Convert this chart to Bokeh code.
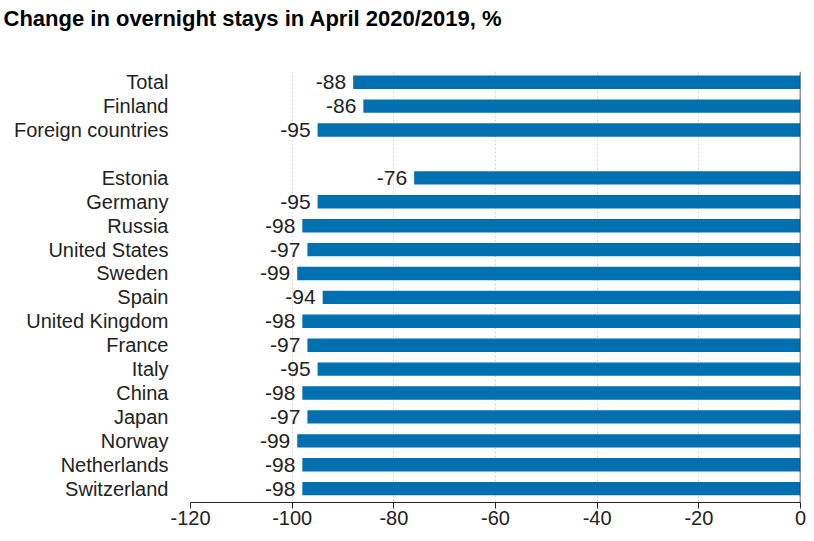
from bokeh.plotting import figure
from bokeh.models import Range1d, Span, FixedTicker, ColumnDataSource, Title
from bokeh.embed import file_html
from bokeh.resources import INLINE
from bokeh.core.properties import value

title = "Change in overnight stays in April 2020/2019, %"
group1 = ["Total", "Finland", "Foreign countries"]
values1 = [-88, -86, -95]
group2 = ["Estonia", "Germany", "Russia", "United States", "Sweden", "Spain",
          "United Kingdom", "France", "Italy", "China", "Japan", "Norway",
          "Netherlands", "Switzerland"]
values2 = [-76, -95, -98, -97, -99, -94, -98, -97, -95, -98, -97, -99, -98, -98]
x_ticks = [-120, -100, -80, -60, -40, -20, 0]

# row positions: one blank row between the two groups
cats = group1 + group2
vals = values1 + values2
rows = list(range(len(group1))) + [len(group1) + 1 + i for i in range(len(group2))]

src = ColumnDataSource(dict(row=rows, val=vals, lab=[str(v) for v in vals],
                            zero=[0] * len(vals)))

FONT = "Liberation Sans"
last = rows[-1]
p = figure(width=806, height=533, output_backend="svg", toolbar_location=None,
           y_range=Range1d(last + 0.58, -0.45),
           x_range=Range1d(x_ticks[0], x_ticks[-1]),
           min_border_left=190, min_border_right=6, min_border_top=71, min_border_bottom=31)
p.title.text = title
p.title.text_font = FONT
p.title.text_font_size = "22px"
p.title.text_font_style = "bold"
p.title.text_color = "#000000"
p.title.offset = -187
p.title.standoff = 0
# spacer between the heading and the plot area (sits next to the frame)
p.add_layout(Title(text=" ", text_font_size="1px", standoff=38), "above")
p.outline_line_color = None

p.hbar(y="row", left="val", right="zero", height=0.56, source=src,
       fill_color="#0070b0", line_color=None)
p.text(x="val", y="row", text="lab", source=src, x_offset=-7, text_align="right",
       text_baseline="middle", text_font=value(FONT), text_font_size="21px",
       text_color="#222222")

p.add_layout(Span(location=0, dimension="height", line_color="#333333", line_width=1.5))

p.xgrid.ticker = FixedTicker(ticks=x_ticks)
p.xgrid.grid_line_color = "#d4d4d4"
p.xgrid.grid_line_dash = "2 2"
p.ygrid.grid_line_color = None

p.xaxis.ticker = FixedTicker(ticks=x_ticks)
p.xaxis.major_label_overrides = {t: str(t) for t in x_ticks}
p.xaxis.axis_line_color = "#222222"
p.xaxis.major_tick_line_color = "#222222"
p.xaxis.major_tick_out = 6
p.xaxis.major_tick_in = 0
p.xaxis.minor_tick_line_color = None
p.xaxis.major_label_text_font = FONT
p.xaxis.major_label_text_font_size = "20px"
p.xaxis.major_label_text_color = "#222222"
p.xaxis.major_label_standoff = 2

p.yaxis.ticker = FixedTicker(ticks=rows)
p.yaxis.major_label_overrides = {r: c for r, c in zip(rows, cats)}
p.yaxis.axis_line_color = None
p.yaxis.major_tick_line_color = None
p.yaxis.minor_tick_line_color = None
p.yaxis.major_label_text_font = FONT
p.yaxis.major_label_text_font_size = "20px"
p.yaxis.major_label_text_color = "#222222"
p.yaxis.major_label_standoff = 16

open("out.html", "w").write(file_html(p, INLINE))
